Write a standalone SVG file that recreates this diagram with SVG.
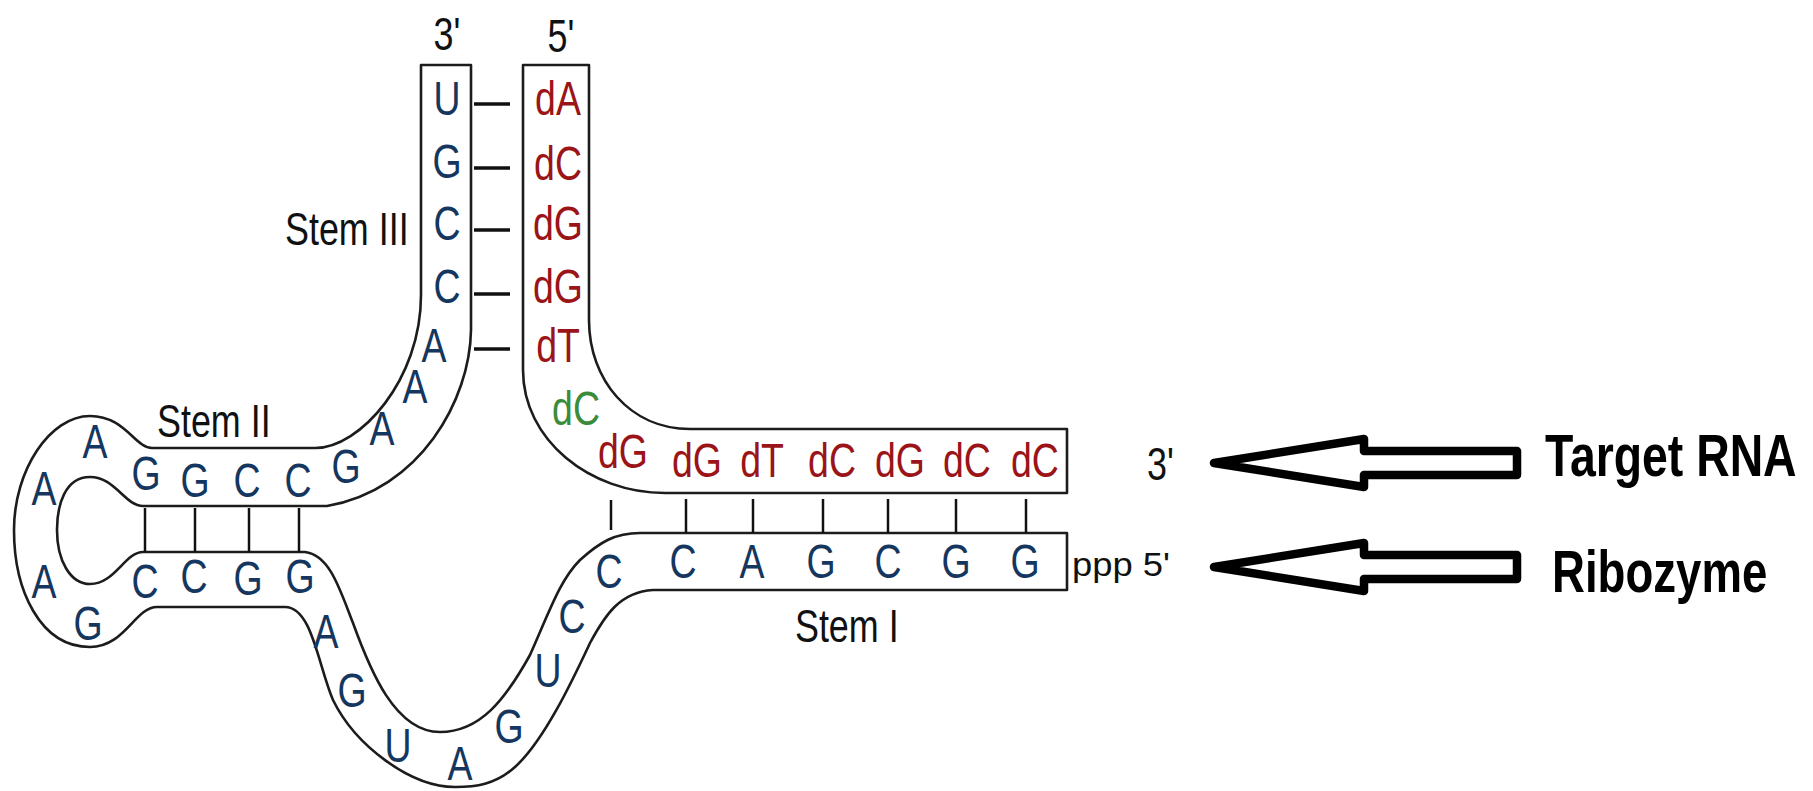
<svg xmlns="http://www.w3.org/2000/svg" width="1813" height="791" viewBox="0 0 1813 791">
<style>
.base{font-family:"Liberation Sans",Arial,sans-serif;font-size:48px;text-anchor:middle;fill:#15375f}
.dna{font-family:"Liberation Sans",Arial,sans-serif;font-size:48px;text-anchor:middle;fill:#9a1418}
.dnag{fill:#3a8c3a}
.lbl{font-family:"Liberation Sans",Arial,sans-serif;font-size:46px;fill:#111}
.lblc{text-anchor:middle}
.big{font-family:"Liberation Sans",Arial,sans-serif;font-size:60px;font-weight:bold;fill:#000}
.strand{fill:none;stroke:#1c1c1c;stroke-width:2.6;stroke-linejoin:round}
.pair{stroke:#111;stroke-width:2.5}
.pair3{stroke:#111;stroke-width:3.5}
.arrow{fill:#fff;stroke:#000;stroke-width:8.5;stroke-linejoin:round}
</style>
<defs>
<path id="bigArrow" class="arrow" d="M0,0 L150,-24 L150,-12 L303,-12 L303,12 L150,12 L150,24 Z"/>
</defs>
<rect width="1813" height="791" fill="#fff"/>

<g id="ribozyme">
<path class="strand" d="M421,65 L471,65 L471,330 C470,400 420,490 327,506 L143,506 C125,506 115,477 90,477 C65,477 57,505 57,530 C57,560 70,584 90,584 C115,584 125,552 143,552 L305,552 C330,555 340,590 353,623 C370,670 395,732 440,732 C480,732 505,700 530,655 C550,610 560,580 580,560 C600,542 615,533 640,533 L1067,533 L1067,590 L653,590 C620,592 605,615 590,643 C575,675 545,740 515,767 C495,785 475,787 455,787 C410,787 355,745 333,700 C318,665 312,607 285,607 L157,607 C135,607 125,647 90,647 C40,647 14,590 14,530 C14,470 50,416 90,416 C125,416 135,448 152,448 L315,448 C360,448 421,380 421,295 Z"/>
<g transform="scale(0.78 1)">
<text class="base" x="573.1" y="115">U</text>
<text class="base" x="573.1" y="178">G</text>
<text class="base" x="573.1" y="240">C</text>
<text class="base" x="573.1" y="303">C</text>
<text class="base" x="556.4" y="362">A</text>
<text class="base" x="532.1" y="403">A</text>
<text class="base" x="489.7" y="445">A</text>
<text class="base" x="443.6" y="483">G</text>
<text class="base" x="382.1" y="497">C</text>
<text class="base" x="316.7" y="497">C</text>
<text class="base" x="250" y="497">G</text>
<text class="base" x="187.2" y="490">G</text>
<text class="base" x="121.8" y="458">A</text>
<text class="base" x="56.4" y="505">A</text>
<text class="base" x="56.4" y="598">A</text>
<text class="base" x="112.8" y="640">G</text>
<text class="base" x="185.9" y="598">C</text>
<text class="base" x="248.7" y="593">C</text>
<text class="base" x="317.9" y="595">G</text>
<text class="base" x="384.6" y="593">G</text>
<text class="base" x="417.9" y="648">A</text>
<text class="base" x="451.3" y="707">G</text>
<text class="base" x="510.3" y="762">U</text>
<text class="base" x="589.7" y="780">A</text>
<text class="base" x="652.6" y="743">G</text>
<text class="base" x="702.6" y="687">U</text>
<text class="base" x="733.3" y="633">C</text>
<text class="base" x="780.8" y="588">C</text>
<text class="base" x="875.6" y="578">C</text>
<text class="base" x="964.1" y="578">A</text>
<text class="base" x="1052.6" y="578">G</text>
<text class="base" x="1138.5" y="578">C</text>
<text class="base" x="1225.6" y="578">G</text>
<text class="base" x="1314.1" y="578">G</text>
</g>
</g>

<g id="target-rna">
<path class="strand" d="M523,65 L589,65 L589,320 C589,380 630,429 690,429 L1067,429 L1067,493 L665,493 C590,493 523,440 523,370 Z"/>
<g transform="scale(0.78 1)">
<text class="dna" x="715.4" y="115">dA</text>
<text class="dna" x="715.4" y="180">dC</text>
<text class="dna" x="715.4" y="240">dG</text>
<text class="dna" x="715.4" y="303">dG</text>
<text class="dna" x="715.4" y="362">dT</text>
<text class="dna dnag" x="738.5" y="425">dC</text>
<text class="dna" x="798.7" y="468">dG</text>
<text class="dna" x="893.6" y="477">dG</text>
<text class="dna" x="976.9" y="477">dT</text>
<text class="dna" x="1066.7" y="477">dC</text>
<text class="dna" x="1153.8" y="477">dG</text>
<text class="dna" x="1239.7" y="477">dC</text>
<text class="dna" x="1326.9" y="477">dC</text>
</g>
</g>

<g id="labels">
<g transform="scale(0.78 1)">
<text class="lbl lblc" x="573.1" y="50">3'</text>
<text class="lbl lblc" x="719.2" y="52">5'</text>
<text class="lbl" x="365.4" y="245">Stem III</text>
<text class="lbl" x="201.3" y="437">Stem II</text>
<text class="lbl" x="1019.2" y="642">Stem I</text>
<text class="lbl" x="1470.5" y="480">3'</text>
</g>
<text class="lbl" x="1072" y="576" style="font-size:34px" textLength="98" lengthAdjust="spacingAndGlyphs">ppp 5'</text>
</g>

<g id="connectors">
<g id="stem3-pairs">
<line class="pair3" x1="474" y1="104" x2="510" y2="104"/>
<line class="pair3" x1="474" y1="168" x2="510" y2="168"/>
<line class="pair3" x1="474" y1="230" x2="510" y2="230"/>
<line class="pair3" x1="474" y1="294" x2="510" y2="294"/>
<line class="pair3" x1="474" y1="349" x2="510" y2="349"/>
</g>
<g id="stem2-pairs">
<line class="pair" x1="145" y1="508" x2="145" y2="552"/>
<line class="pair" x1="195" y1="508" x2="195" y2="552"/>
<line class="pair" x1="249" y1="508" x2="249" y2="552"/>
<line class="pair" x1="299" y1="508" x2="299" y2="552"/>
</g>
<g id="stem1-pairs">
<line class="pair" x1="611" y1="500" x2="611" y2="530"/>
<line class="pair" x1="686" y1="499" x2="686" y2="533"/>
<line class="pair" x1="753" y1="499" x2="753" y2="533"/>
<line class="pair" x1="823" y1="499" x2="823" y2="533"/>
<line class="pair" x1="888" y1="499" x2="888" y2="533"/>
<line class="pair" x1="956" y1="499" x2="956" y2="533"/>
<line class="pair" x1="1026" y1="499" x2="1026" y2="533"/>
</g>
<use id="arrow-target" href="#bigArrow" x="1214" y="463"/>
<use id="arrow-ribozyme" href="#bigArrow" x="1214" y="567"/>
</g>

<g id="legend">
<g transform="translate(1545 476) scale(0.773 1)">
<text class="big" x="0" y="0">Target RNA</text>
</g>
<g transform="translate(1552 592) scale(0.76 1)">
<text class="big" x="0" y="0">Ribozyme</text>
</g>
</g>
</svg>
